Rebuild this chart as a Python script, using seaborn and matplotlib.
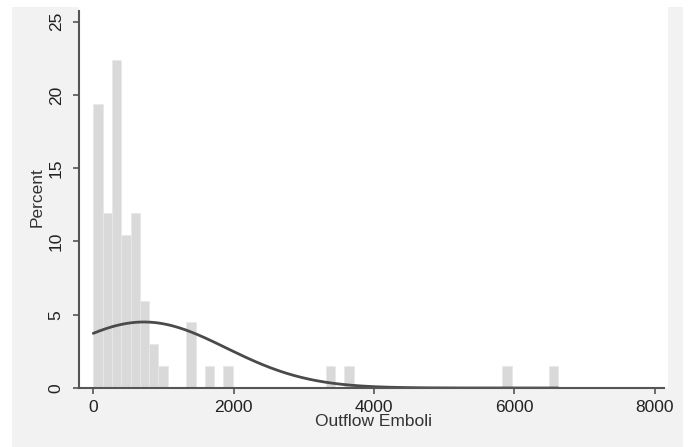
import numpy as np
import pandas as pd
import matplotlib
matplotlib.use("Agg")
import matplotlib.pyplot as plt
import seaborn as sns

# histogram bins (Stata-style: start 0, width ~132.5)
bin_width = 132.5
bin_index = [0, 1, 2, 3, 4, 5, 6, 7, 10, 12, 14, 25, 27, 44, 49]
bin_count = [13, 8, 15, 7, 8, 4, 2, 1, 3, 1, 1, 1, 1, 1, 1]

x_ticks = [0, 2000, 4000, 6000, 8000]
y_ticks = [0, 5, 10, 15, 20, 25]

centers = (np.array(bin_index) + 0.5) * bin_width
values = np.repeat(centers, bin_count)
df = pd.DataFrame({"emboli": values})

# normal overlay from the data's mean and sd, scaled to percent per bin
mu = values.mean()
sd = values.std(ddof=1)
n_bins = max(bin_index) + 1
xs = np.linspace(0, n_bins * bin_width, 300)
curve = 100 * bin_width * np.exp(-0.5 * ((xs - mu) / sd) ** 2) / (sd * np.sqrt(2 * np.pi))
curve_df = pd.DataFrame({"x": xs, "pct": curve})

sns.set_style("white")
plt.rcParams["font.family"] = ["Liberation Sans", "DejaVu Sans"]

fig = plt.figure(figsize=(6.91, 4.47), dpi=100, facecolor="white")
fig.patches.append(plt.Rectangle((12 / 691, 0), 671 / 691, 1 - 7 / 447,
                                 transform=fig.transFigure, facecolor="#f2f2f2",
                                 edgecolor="none", zorder=-10))
ax = fig.add_axes([79 / 691, 1 - 388 / 447, 589 / 691, 381 / 447])
ax.set_facecolor("white")

sns.histplot(data=df, x="emboli", stat="percent", binwidth=bin_width,
             binrange=(0, n_bins * bin_width), color="#d9d9d9", alpha=1,
             edgecolor="#e8e8e8", linewidth=0.6, ax=ax)
sns.lineplot(data=curve_df, x="x", y="pct", color="#4a4a4a", linewidth=2, ax=ax)

ax.set_xlim(-204, 8190)
ax.set_ylim(0, 26)
ax.set_xticks(x_ticks)
ax.set_yticks(y_ticks)
ax.set_yticklabels([str(v) for v in y_ticks], rotation=90, va="center")
ax.tick_params(axis="both", bottom=True, left=True, direction="out", length=4,
               width=1.2, color="#555555", labelsize=12.5, labelcolor="#222222", pad=5)
ax.tick_params(axis="y", pad=7)
ax.set_xlabel("Outflow Emboli", fontsize=12.5, color="#333333", labelpad=-1)
ax.set_ylabel("Percent", fontsize=12.5, color="#333333", labelpad=3)

for side in ["top", "right"]:
    ax.spines[side].set_visible(False)
for side in ["left", "bottom"]:
    ax.spines[side].set_color("#555555")
    ax.spines[side].set_linewidth(1.5)
ax.spines["left"].set_bounds(0, 25.7)
ax.spines["bottom"].set_bounds(-204, 8130)

fig.savefig("out.png", dpi=100, facecolor=fig.get_facecolor())
